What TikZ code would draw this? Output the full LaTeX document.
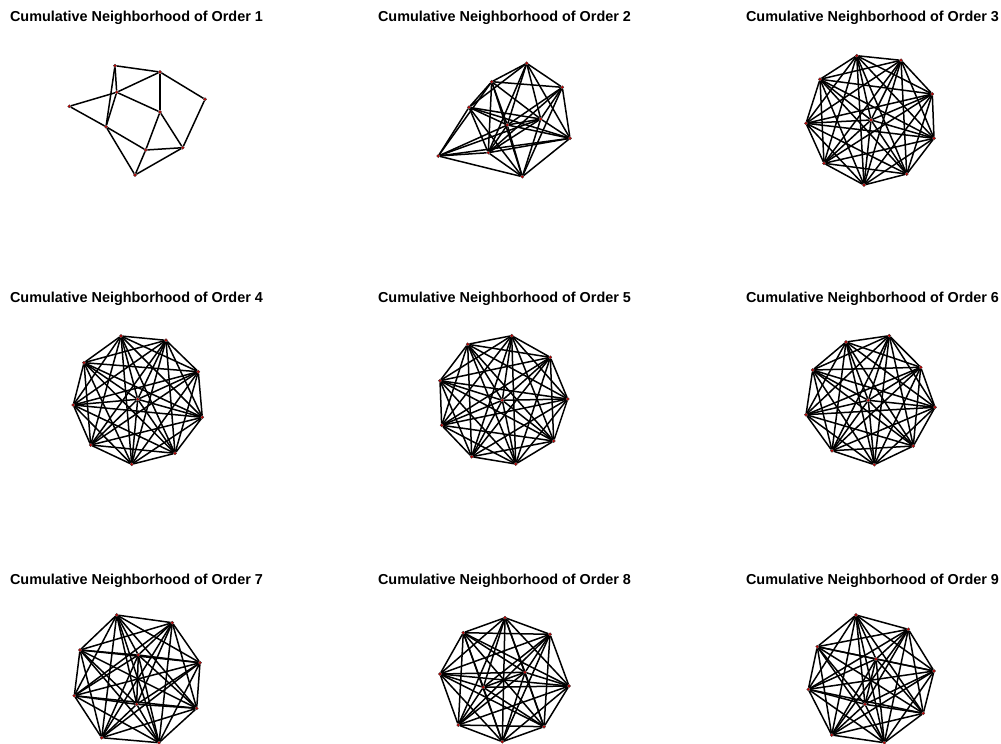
\documentclass[tikz,border=0pt]{standalone}
\usepackage{fontspec}
\setmainfont{Liberation Sans}
\pgfdeclarelayer{bg}
\pgfsetlayers{bg,main}

\begin{document}
\begin{tikzpicture}[x=1pt, y=-1pt,
    vtx/.style={circle, fill=red!80!black, draw=black!80, line width=0.3pt, inner sep=0pt, minimum size=3.2pt},
    edge/.style={line width=1.5pt, black},
    ttl/.style={font=\fontsize{14.4}{17}\selectfont\bfseries, anchor=base},
  ]
    \useasboundingbox (0,0) rectangle (1001,744);

    % titles
    \foreach \k/\x/\y in {1/136.5/21, 2/504.5/21, 3/872.5/21,
                          4/136.5/302.5, 5/504.5/302.5, 6/872.5/302.5,
                          7/136.5/584, 8/504.5/584, 9/872.5/584}
      \node[ttl] (t\k) at (\x,\y) {Cumulative Neighborhood of Order \k};

    % vertices of each panel
    \foreach \x/\y [count=\n] in {115/65.7, 160/72, 116.7/92.3, 205/99.3, 69.3/106.3,
                                  160/112, 106/126.7, 182.7/147.7, 145.7/150, 135/175}
      \node[vtx] (g1-\n) at (\x,\y) {};
    \foreach \x/\y [count=\n] in {526.7/63.3, 491.7/81.7, 562.3/87.3, 469/107.3, 507.3/125,
                                  540.7/119, 570/138.3, 438.3/156, 488.3/152.7, 522.3/176.7}
      \node[vtx] (g2-\n) at (\x,\y) {};
    \foreach \x/\y [count=\n] in {856.7/55.7, 901/60.3, 820/79.3, 932.3/94, 871/120,
                                  806/123.3, 934/138.3, 824/163.3, 906.7/174, 864/185}
      \node[vtx] (g3-\n) at (\x,\y) {};
    \foreach \x/\y [count=\n] in {121/336, 166/340.3, 84/362.7, 198.3/371.7, 137.7/399.3,
                                  73.3/405, 202.3/417.3, 90.7/445, 175/453.3, 131.7/464.3}
      \node[vtx] (g4-\n) at (\x,\y) {};
    \foreach \x/\y [count=\n] in {511.7/335.7, 467.7/344.3, 550.3/357.3, 440/380.7, 502.3/400.3,
                                  567.7/399, 441.7/425.3, 553.7/441, 471.7/456.7, 515.7/464}
      \node[vtx] (g5-\n) at (\x,\y) {};
    \foreach \x/\y [count=\n] in {889.3/335.7, 846/342, 812.7/370, 920.7/367.3, 868.3/400.3,
                                  935/407.3, 806/414.7, 913.3/446, 832/450.7, 874.3/464.7}
      \node[vtx] (g6-\n) at (\x,\y) {};
    \foreach \x/\y [count=\n] in {116.7/615, 172.3/622.7, 80/650, 138.3/655, 200/662.7,
                                  74.3/695.7, 136.7/704.3, 196.7/708.3, 101.7/737.7, 159/742.7}
      \node[vtx] (g7-\n) at (\x,\y) {};
    \foreach \x/\y [count=\n] in {505/617.7, 463.3/632.7, 550/634.3, 440/674, 525/672.3,
                                  483.3/687.3, 569/686, 458.3/725, 544/726.7, 502.3/741.7}
      \node[vtx] (g8-\n) at (\x,\y) {};
    \foreach \x/\y [count=\n] in {856/615, 908.3/629.3, 817.3/646.7, 876/659, 934/671,
                                  808.3/689.3, 865/704.3, 923.3/713.3, 831.7/735, 884.3/742.7}
      \node[vtx] (g9-\n) at (\x,\y) {};

    \begin{pgfonlayer}{bg}
      % order 1
      \foreach \i/\j in {1/2, 1/3, 1/7, 3/7, 2/3, 3/5, 5/7, 3/6, 2/6, 2/4,
                         4/8, 6/8, 6/9, 7/9, 8/9, 7/10, 9/10, 8/10}
        \draw[edge] (g1-\i) -- (g1-\j);
      % order 2
      \foreach \i/\j in {1/2, 1/3, 1/4, 1/5, 1/6, 1/7, 1/9,
                         2/3, 2/4, 2/5, 2/6, 2/8, 2/9, 2/10,
                         3/5, 3/6, 3/7, 3/9, 3/10,
                         4/5, 4/6, 4/7, 4/8, 4/9, 4/10,
                         5/6, 5/7, 5/8, 5/9, 5/10,
                         6/7, 6/8, 6/9, 6/10,
                         7/8, 7/9, 7/10, 8/9, 8/10, 9/10}
        \draw[edge] (g2-\i) -- (g2-\j);
      % orders 3 to 9: every pair
      \foreach \k in {3,...,9}
        \foreach \i in {1,...,9} {
          \pgfmathtruncatemacro\m{\i+1}
          \foreach \j in {\m,...,10}
            \draw[edge] (g\k-\i) -- (g\k-\j);
        }
    \end{pgfonlayer}
  \end{tikzpicture}
\end{document}
